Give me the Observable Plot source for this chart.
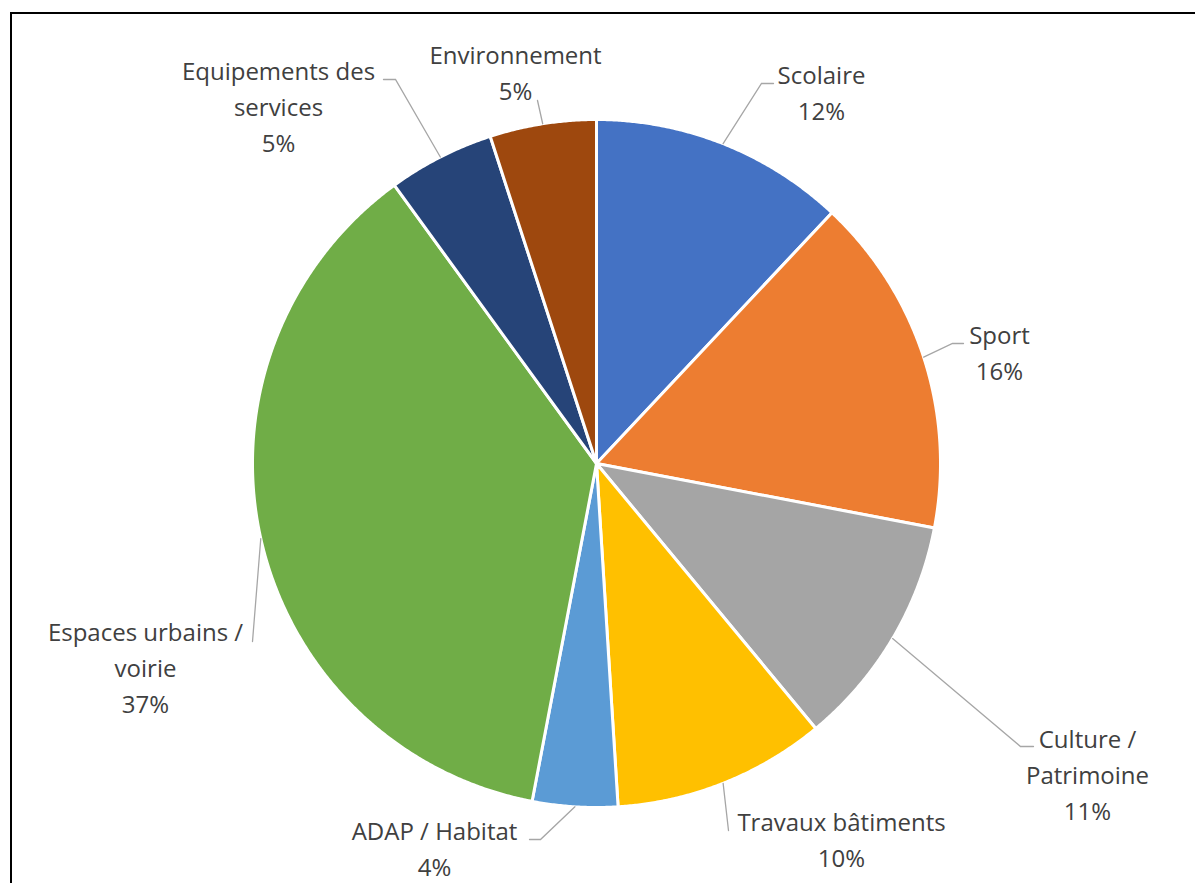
<!DOCTYPE html>
<html><head><meta charset="utf-8">
<script src="https://cdn.jsdelivr.net/npm/d3@7"></script>
<script src="https://cdn.jsdelivr.net/npm/@observablehq/plot@0.6"></script>
<style>
html,body{margin:0;padding:0;background:#fff;overflow:hidden;}
#wrap{position:relative;width:1195px;height:883px;overflow:hidden;}
#frame{position:absolute;left:10px;top:12px;width:1400px;height:1100px;border:2px solid #000;box-sizing:border-box;pointer-events:none;}
</style></head><body>
<div id="wrap"><div id="chart"></div><div id="frame"></div></div>
<script>
// ---- data ----
const categories = ["Scolaire","Sport","Culture / Patrimoine","Travaux bâtiments","ADAP / Habitat","Espaces urbains / voirie","Equipements des services","Environnement"];
const values = [12, 16, 11, 10, 4, 37, 5, 5];
const colors = ["#4472C4","#ED7D31","#A5A5A5","#FFC000","#5B9BD5","#70AD47","#264478","#9E480E"];
const labelLines = [["Scolaire"],["Sport"],["Culture /","Patrimoine"],["Travaux bâtiments"],["ADAP / Habitat"],["Espaces urbains /","voirie"],["Equipements des","services"],["Environnement"]];

// ---- layout (pixel offsets from pie centre, y downward) ----
const R = 344;           // pie radius
const LINE = 36;         // label line spacing
const labelLayout = [
  {tx: 225,  ty: -380, leader: [[165,-380],[177,-380]]},
  {tx: 403,  ty: -120, leader: [[356,-120],[367,-120]]},
  {tx: 491,  ty: 284,  leader: [[424,283],[437,283]]},
  {tx: 245,  ty: 367,  leader: [[132,367]]},
  {tx: -162, ty: 376,  leader: [[-56,376],[-67,376]]},
  {tx: -451, ty: 177,  leader: [[-344,178]]},
  {tx: -318, ty: -384, leader: [[-201,-384],[-213,-384]]},
  {tx: -81,  ty: -400, leader: [[-59,-363]]}
];

const total = d3.sum(values);
const arcs = d3.pie().sort(null).value(d => d)(values);

// slice polygons
const sliceRows = [];
arcs.forEach((a, i) => {
  const cat = categories[i];
  sliceRows.push({cat, x: 0, y: 0});
  const steps = Math.max(8, Math.ceil((a.endAngle - a.startAngle) / 0.005));
  for (let k = 0; k <= steps; k++) {
    const t = a.startAngle + (a.endAngle - a.startAngle) * k / steps;
    sliceRows.push({cat, x: R * Math.sin(t), y: -R * Math.cos(t)});
  }
  sliceRows.push({cat, x: 0, y: 0});
});

// leader lines
const leaderRows = [];
arcs.forEach((a, i) => {
  const cat = categories[i];
  const m = (a.startAngle + a.endAngle) / 2;
  leaderRows.push({cat, x: R * Math.sin(m), y: -R * Math.cos(m)});
  labelLayout[i].leader.forEach(([x, y]) => leaderRows.push({cat, x, y}));
});

// labels
const labelRows = categories.map((cat, i) => {
  const lines = [...labelLines[i], Math.round(values[i] / total * 100) + "%"];
  return {cat, x: labelLayout[i].tx, y: labelLayout[i].ty + (lines.length - 1) * LINE, text: lines.join("\n")};
});

const chart = Plot.plot({
  width: 1195,
  height: 883,
  margin: 0,
  style: {background: "#fff", overflow: "visible"},
  x: {domain: [-596, 599], range: [0, 1195], axis: null},
  y: {domain: [-463, 420], range: [0, 883], axis: null},
  color: {domain: categories, range: colors},
  marks: [
    Plot.line(sliceRows, {x: "x", y: "y", z: "cat", fill: "cat", stroke: "white", strokeWidth: 3, strokeLinejoin: "round"}),
    Plot.line(leaderRows, {x: "x", y: "y", z: "cat", stroke: "#A6A6A6", strokeWidth: 1.3, strokeLinejoin: "miter", strokeMiterlimit: 4}),
    Plot.text(labelRows, {x: "x", y: "y", text: "text", textAnchor: "middle", lineAnchor: "bottom", lineHeight: 1.5, fontSize: 24, fontFamily: "Open Sans", fill: "#404040"})
  ]
});
document.getElementById("chart").appendChild(chart);
</script>
</body></html>
